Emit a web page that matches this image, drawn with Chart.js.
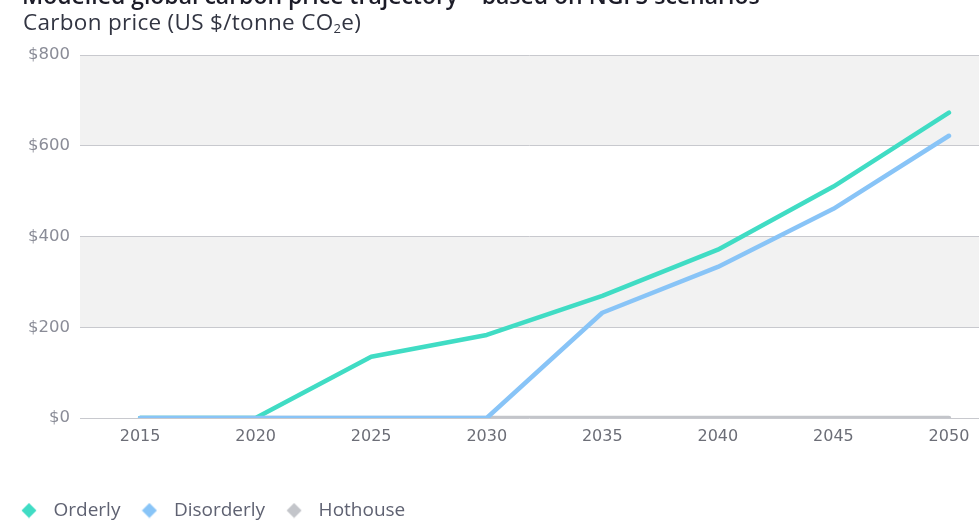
<!DOCTYPE html>
<html>
<head>
<meta charset="utf-8">
<script src="https://cdn.jsdelivr.net/npm/chart.js@4/dist/chart.umd.min.js"></script>
<style>
html, body { margin: 0; padding: 0; background: #fff; }
#wrap { position: relative; width: 979px; height: 520px; overflow: hidden; }
#title { position: absolute; left: 22px; top: -21px; font: 600 23px 'Open Sans', sans-serif; color: #1c1c28; white-space: nowrap; line-height: 32px; }
#subtitle { position: absolute; left: 23px; top: 7px; font: 400 22.5px 'Open Sans', sans-serif; color: #323542; white-space: nowrap; line-height: 30px; letter-spacing: 0.3px; }
#subtitle sub { font-size: 13px; vertical-align: -3px; line-height: 0; }
canvas { position: absolute; left: 0; top: 0; }
</style>
</head>
<body>
<div id="wrap">
  <canvas id="carbonChart" width="979" height="520"></canvas>
  <div id="title">Modelled global carbon price trajectory – based on NGFS scenarios</div>
  <div id="subtitle">Carbon price (US $/tonne CO<sub>2</sub>e)</div>
</div>
<script>
// values (US $/tonne)
const years = [2015, 2020, 2025, 2030, 2035, 2040, 2045, 2050];
const orderly = [0, 0, 135, 183, 269, 371, 510, 673];
const disorderly = [0, 0, 0, 0, 232, 333, 461, 622];
const hothouse = [0, 0, 0, 0, 0, 0, 0, 0];
const yTicks = [0, 200, 400, 600, 800];

const colors = {
    orderly: '#40dcc4',
    disorderly: '#88c4f7',
    hothouse: '#c3c5ca'
};

// diamond marker used for the legend
function diamond(color) {
    const c = document.createElement('canvas');
    c.width = 16;
    c.height = 16;
    const g = c.getContext('2d');
    g.fillStyle = color;
    g.beginPath();
    g.moveTo(8, 0.5);
    g.lineTo(15.5, 8);
    g.lineTo(8, 15.5);
    g.lineTo(0.5, 8);
    g.closePath();
    g.fill();
    return c;
}

function toPoints(values) {
    return values.map((v, i) => ({ x: years[i], y: v }));
}

// grey bands behind the plot ($200-$400 and $600-$800)
const bandPlugin = {
    id: 'bands',
    beforeDraw(chart) {
        const { ctx, chartArea, scales } = chart;
        ctx.save();
        ctx.fillStyle = '#f2f2f2';
        [[200, 400], [600, 800]].forEach(([lo, hi]) => {
            const top = scales.y.getPixelForValue(hi);
            const bottom = scales.y.getPixelForValue(lo);
            ctx.fillRect(chartArea.left, top, chartArea.right - chartArea.left, bottom - top);
        });
        ctx.restore();
    }
};

function lineDataset(label, values, color, order) {
    return {
        label: label,
        data: toPoints(values),
        borderColor: color,
        backgroundColor: color,
        borderWidth: 4.5,
        borderCapStyle: 'round',
        borderJoinStyle: 'round',
        pointRadius: 0,
        pointHoverRadius: 0,
        pointStyle: diamond(color),
        tension: 0,
        order: order
    };
}

new Chart(document.getElementById('carbonChart'), {
    type: 'line',
    data: {
        datasets: [
            lineDataset('Orderly', orderly, colors.orderly, 2),
            lineDataset('Disorderly', disorderly, colors.disorderly, 1),
            lineDataset('Hothouse', hothouse, colors.hothouse, 3)
        ]
    },
    options: {
        responsive: false,
        animation: false,
        layout: { padding: { top: 55, right: 0, left: 0, bottom: -10 } },
        scales: {
            x: {
                type: 'linear',
                min: 2012.4,
                max: 2051.3,
                afterBuildTicks: scale => { scale.ticks = years.map(v => ({ value: v })); },
                afterFit: scale => { scale.height = 69; },
                grid: { display: false },
                border: { display: false },
                ticks: {
                    padding: 1,
                    maxRotation: 0,
                    color: '#6c6e77',
                    font: { family: 'DejaVu Sans', size: 16 },
                    callback: v => String(v)
                }
            },
            y: {
                min: 0,
                max: 800,
                afterBuildTicks: scale => { scale.ticks = yTicks.map(v => ({ value: v })); },
                afterFit: scale => { scale.width = 80; },
                grid: { color: '#c8c9ce', lineWidth: 1, drawTicks: false },
                border: { display: false },
                ticks: {
                    padding: 10,
                    color: '#8a8c97',
                    font: { family: 'DejaVu Sans', size: 16.5 },
                    callback: v => '$' + v
                }
            }
        },
        plugins: {
            tooltip: { enabled: false },
            legend: {
                position: 'bottom',
                align: 'start',
                labels: {
                    usePointStyle: true,
                    pointStyleWidth: 30,
                    padding: 14,
                    color: '#5f6272',
                    font: { family: 'Open Sans', size: 19 },
                    sort: (a, b) => a.datasetIndex - b.datasetIndex
                }
            }
        }
    },
    plugins: [bandPlugin]
});
</script>
</body>
</html>
